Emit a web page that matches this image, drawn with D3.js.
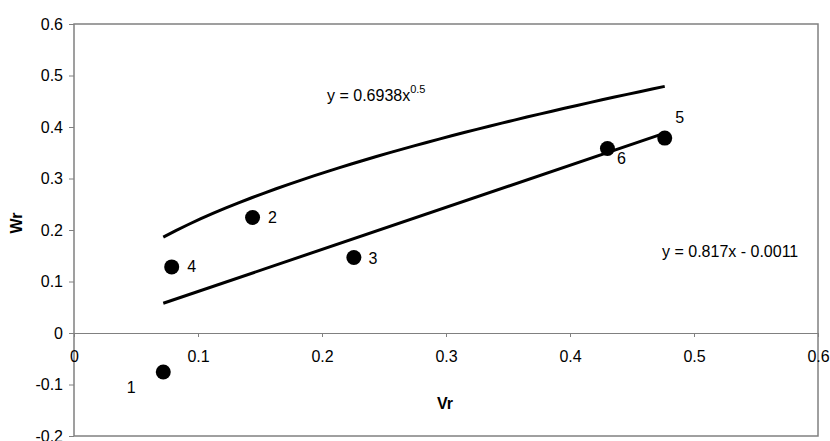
<!DOCTYPE html>
<html>
<head>
<meta charset="utf-8">
<script src="https://cdn.jsdelivr.net/npm/d3@7"></script>
<style>
  body { margin: 0; background: #fff; }
  svg { display: block; font-family: "Liberation Sans", Arial, sans-serif; }
</style>
</head>
<body>
<svg id="chart" width="830" height="441"></svg>
<script>
// measured points
var vr = [0.072, 0.144, 0.2257, 0.0788, 0.4764, 0.4302];
var wr = [-0.0758, 0.2243, 0.1465, 0.1283, 0.3784, 0.3583];
var pointNames = ["1", "2", "3", "4", "5", "6"];

var xTicks = [0, 0.1, 0.2, 0.3, 0.4, 0.5, 0.6];
var yTicks = [-0.2, -0.1, 0, 0.1, 0.2, 0.3, 0.4, 0.5, 0.6];

// trendlines as printed on the chart
var powerA = 0.6938, powerB = 0.5;
var linSlope = 0.817, linIntercept = -0.0011;

// where each point label sits relative to its dot
var labelOffsets = [[-32, 21], [20, 6], [19, 6], [20, 5], [15, -15], [14, 16]];

var svg = d3.select("#chart"),
    margin = {top: 24, right: 12, bottom: 5, left: 74},
    width = +svg.attr("width") - margin.left - margin.right,
    height = +svg.attr("height") - margin.top - margin.bottom;

var x = d3.scaleLinear().domain([0, 0.6]).range([margin.left, margin.left + width]);
var y = d3.scaleLinear().domain([-0.2, 0.6]).range([margin.top + height, margin.top]);

var fmt = function(d) { return String(+d.toFixed(1)); };

// frame
svg.append("rect")
    .attr("x", x(0))
    .attr("y", y(0.6))
    .attr("width", x(0.6) - x(0))
    .attr("height", y(-0.2) - y(0.6))
    .attr("fill", "none")
    .attr("stroke", "#808080")
    .attr("stroke-width", 1.5);

// x axis on y = 0
var xAxis = svg.append("g")
    .attr("transform", "translate(0," + y(0) + ")")
    .call(d3.axisBottom(x).tickValues(xTicks).tickSize(4).tickPadding(14).tickFormat(fmt));
xAxis.select(".domain").attr("stroke", "#808080");
xAxis.selectAll(".tick line").attr("stroke", "#808080");
xAxis.selectAll("text").attr("font-size", 16).attr("fill", "#000").attr("font-family", null);

var yAxis = svg.append("g")
    .attr("transform", "translate(" + x(0) + ",0)")
    .call(d3.axisLeft(y).tickValues(yTicks).tickSize(5).tickPadding(6).tickFormat(fmt));
yAxis.select(".domain").remove();
yAxis.selectAll(".tick line").attr("stroke", "#808080");
yAxis.selectAll("text").attr("font-size", 16).attr("fill", "#000").attr("font-family", null);

// axis titles
svg.append("text")
    .attr("x", 445)
    .attr("y", 409)
    .attr("text-anchor", "middle")
    .attr("font-size", 16)
    .attr("font-weight", "bold")
    .text("Vr");

svg.append("text")
    .attr("transform", "translate(22,223) rotate(-90)")
    .attr("text-anchor", "middle")
    .attr("font-size", 16)
    .attr("font-weight", "bold")
    .text("Wr");

// trendlines
var xMin = d3.min(vr), xMax = d3.max(vr);
var xs = d3.range(0, 41).map(function(i) { return xMin + (xMax - xMin) * i / 40; });

var line = d3.line()
    .x(function(d) { return x(d[0]); })
    .y(function(d) { return y(d[1]); });

svg.append("path")
    .datum(xs.map(function(v) { return [v, powerA * Math.pow(v, powerB)]; }))
    .attr("fill", "none")
    .attr("stroke", "#000")
    .attr("stroke-width", 3)
    .attr("d", line);

svg.append("path")
    .datum([xMin, xMax].map(function(v) { return [v, linSlope * v + linIntercept]; }))
    .attr("fill", "none")
    .attr("stroke", "#000")
    .attr("stroke-width", 3)
    .attr("d", line);

// points
svg.selectAll("circle.pt")
    .data(vr)
    .enter().append("circle")
    .attr("class", "pt")
    .attr("cx", function(d) { return x(d); })
    .attr("cy", function(d, i) { return y(wr[i]); })
    .attr("r", 7.5)
    .attr("fill", "#000");

svg.selectAll("text.pt")
    .data(pointNames)
    .enter().append("text")
    .attr("class", "pt")
    .attr("x", function(d, i) { return x(vr[i]) + labelOffsets[i][0]; })
    .attr("y", function(d, i) { return y(wr[i]) + labelOffsets[i][1]; })
    .attr("text-anchor", "middle")
    .attr("font-size", 16)
    .text(function(d) { return d; });

// equations
var eq1 = svg.append("text")
    .attr("x", 327)
    .attr("y", 101)
    .attr("font-size", 16);
eq1.append("tspan").text("y = " + powerA + "x");
eq1.append("tspan").attr("dy", -8).attr("font-size", 11).text(powerB);

svg.append("text")
    .attr("x", 662)
    .attr("y", 257)
    .attr("font-size", 16)
    .text("y = " + linSlope + "x - " + Math.abs(linIntercept).toFixed(4));
</script>
</body>
</html>
